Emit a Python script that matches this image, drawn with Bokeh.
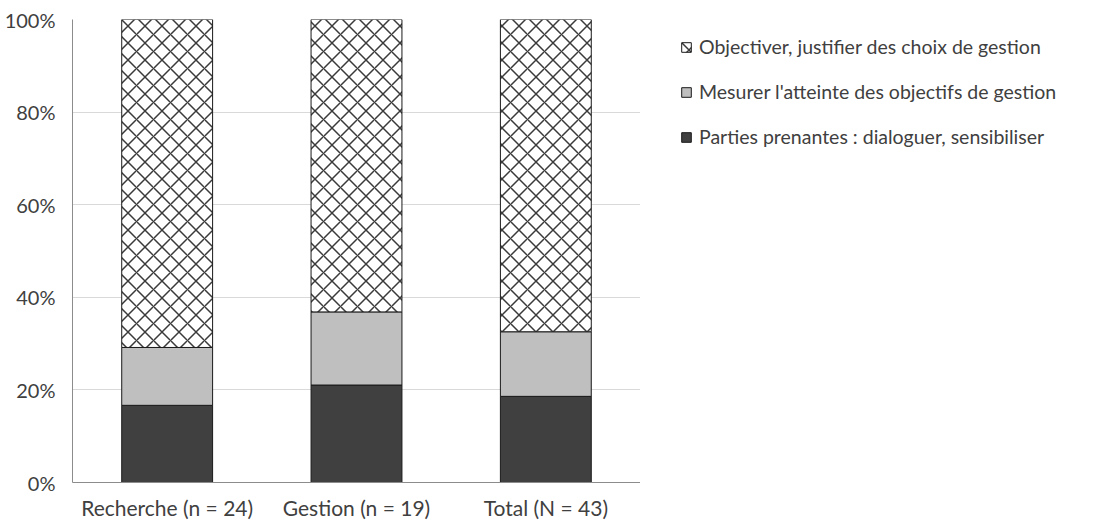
from bokeh.plotting import figure
from bokeh.layouts import row
from bokeh.models import Legend, LegendItem, NumeralTickFormatter, FixedTicker, Range1d
from bokeh.embed import file_html
from bokeh.resources import INLINE

categories = ["Recherche (n = 24)", "Gestion (n = 19)", "Total (N = 43)"]
parties = [4 / 24, 4 / 19, 8 / 43]
mesurer = [3 / 24, 3 / 19, 6 / 43]
objectiver = [17 / 24, 12 / 19, 29 / 43]
series_names = ["Parties prenantes : dialoguer, sensibiliser",
                "Mesurer l'atteinte des objectifs de gestion",
                "Objectiver, justifier des choix de gestion"]
y_ticks = [0, 0.2, 0.4, 0.6, 0.8, 1.0]

FONT = "Lato"
TXT = "#404040"
H = 523

p = figure(x_range=categories, y_range=Range1d(0, 1), width=640, height=H,
           output_backend="svg", toolbar_location=None,
           min_border_left=72, min_border_top=19, min_border_bottom=41, min_border_right=0)
p.outline_line_color = None

b1 = [0, 0, 0]
t1 = parties
b2 = t1
t2 = [a + b for a, b in zip(t1, mesurer)]
b3 = t2
t3 = [a + b for a, b in zip(t2, objectiver)]

styles = [dict(fill_color="#404040", line_color="#1a1a1a", line_width=1),
          dict(fill_color="#bfbfbf", line_color="#1a1a1a", line_width=1),
          dict(fill_color="white", line_color="#1a1a1a", line_width=1, hatch_pattern="x",
               hatch_color="#3a3a3a", hatch_scale=17, hatch_weight=1.5)]

p.vbar(x=categories, bottom=b1, top=t1, width=0.48, **styles[0])
p.vbar(x=categories, bottom=b2, top=t2, width=0.48, **styles[1])
p.vbar(x=categories, bottom=b3, top=t3, width=0.48, **styles[2])

p.yaxis.ticker = FixedTicker(ticks=y_ticks)
p.yaxis.formatter = NumeralTickFormatter(format="0%")
p.ygrid.ticker = FixedTicker(ticks=y_ticks)
p.ygrid.grid_line_color = "#d9d9d9"
p.ygrid.grid_line_width = 1
p.xgrid.grid_line_color = None

for ax in (p.xaxis, p.yaxis):
    ax.axis_line_color = "#8c8c8c"
    ax.major_tick_line_color = None
    ax.minor_tick_line_color = None
    ax.major_tick_out = 0
    ax.major_tick_in = 0
    ax.axis_label_standoff = 0
    ax.major_label_text_font = FONT
    ax.major_label_text_color = TXT
p.yaxis.major_label_text_font_size = "20px"
p.xaxis.major_label_text_font_size = "21px"
p.xaxis.major_label_text_line_height = 1.0
p.yaxis.major_label_standoff = 17
p.xaxis.major_label_standoff = 12

# legend-only panel to the right
q = figure(width=437, height=H, x_range=Range1d(0, 1), y_range=Range1d(0, 1),
           output_backend="svg", toolbar_location=None,
           min_border_left=0, min_border_right=0, min_border_top=12, min_border_bottom=0)
q.axis.visible = False
q.grid.visible = False
q.outline_line_color = None
rs = [q.vbar(x=[5], top=[0.5], width=0.5, **s) for s in styles]

legend = Legend(items=[LegendItem(label=series_names[2], renderers=[rs[2]]),
                       LegendItem(label=series_names[1], renderers=[rs[1]]),
                       LegendItem(label=series_names[0], renderers=[rs[0]])],
                border_line_color=None, background_fill_alpha=0,
                label_text_font=FONT, label_text_font_size="19.5px", label_text_color=TXT,
                glyph_width=12, glyph_height=12, spacing=22, label_standoff=7,
                padding=0, margin=0, location=(40, 334))
legend.label_height = 22
q.add_layout(legend, "center")

open("out.html", "w").write(file_html(row(p, q), INLINE))
